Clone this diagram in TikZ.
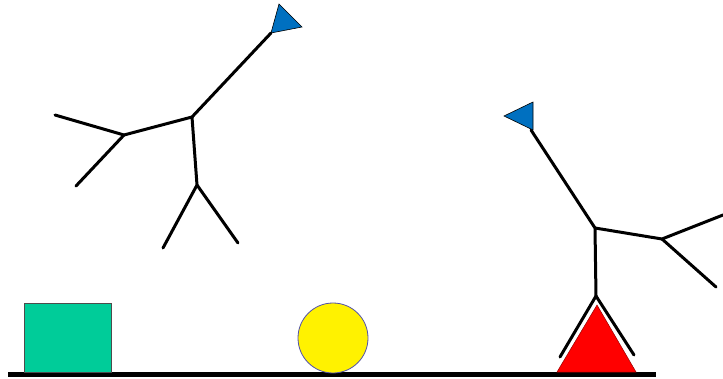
\documentclass[tikz,border=0pt]{standalone}
\definecolor{sqgreen}{RGB}{0,204,153}
\definecolor{tipblue}{RGB}{0,112,192}
\definecolor{circedge}{RGB}{80,80,170}
\tikzset{
  limb/.style={line width=3pt, black, line cap=round},
  tipflag/.style={fill=tipblue, draw=black, line width=0.6pt, line join=miter},
}
\begin{document}
\begin{tikzpicture}[x=1pt,y=-1pt]
\useasboundingbox (0,0) rectangle (723,379);
% ground
\draw[line width=5pt] (8,374) -- (656,374);
% square
\draw[fill=sqgreen, draw=black!70, line width=1pt] (24,304) rectangle (111,372);
% circle
\draw[fill=yellow, draw=circedge, line width=0.8pt] (333,338) circle (35);
% red triangle
\draw[fill=red, draw=red!60!black, line width=0.5pt] (597,305) -- (636,372) -- (557,372) -- cycle;
% left tree
\coordinate (a) at (192,117);
\coordinate (b) at (124,135);
\coordinate (b1) at (55,115);
\coordinate (b2) at (76,186);
\coordinate (c) at (197,185);
\coordinate (c1) at (163,248);
\coordinate (c2) at (238,243);
\coordinate (t1) at (271,33);
\draw[limb] (t1) -- (a) -- (b) -- (b1);
\draw[limb] (b) -- (b2);
\draw[limb] (a) -- (c) -- (c1);
\draw[limb] (c) -- (c2);
\draw[tipflag] (279,4) -- (302,27) -- (271,33) -- cycle;
% right tree
\coordinate (p) at (596,296);
\coordinate (q) at (595,228);
\coordinate (r) at (662,239);
\coordinate (r1) at (723,215);
\coordinate (r2) at (716,287);
\coordinate (t2) at (531,130);
\coordinate (l1) at (560,357);
\coordinate (l2) at (634,355);
\draw[limb] (l1) -- (p) -- (l2);
\draw[limb] (p) -- (q) -- (t2);
\draw[limb] (q) -- (r) -- (r1);
\draw[limb] (r) -- (r2);
\draw[tipflag] (533,102) -- (504,116) -- (533,130) -- cycle;
\end{tikzpicture}
\end{document}
